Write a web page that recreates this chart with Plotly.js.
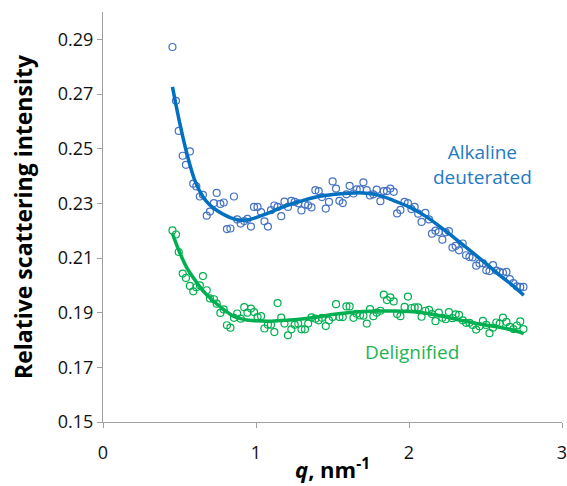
<!DOCTYPE html>
<html>
<head>
<meta charset="utf-8">
<script src="https://cdn.plot.ly/plotly-3.0.1.min.js"></script>
<style>html,body{margin:0;padding:0;background:#fff;}#chart{width:567px;height:486px;}</style>
</head>
<body>
<div id="chart"></div>
<script>
// scattering vector q (nm^-1), shared by both measured series
const q = [0.454,0.477,0.495,0.521,0.542,0.568,0.590,0.610,0.633,0.653,
0.678,0.699,0.725,0.743,0.767,0.789,0.810,0.833,0.856,0.877,
0.900,0.923,0.944,0.967,0.987,1.010,1.033,1.055,1.078,1.098,
1.120,1.141,1.165,1.186,1.209,1.231,1.253,1.276,1.297,1.320,
1.341,1.363,1.388,1.410,1.431,1.456,1.477,1.501,1.523,1.545,
1.567,1.591,1.612,1.637,1.658,1.680,1.702,1.724,1.745,1.767,
1.789,1.813,1.835,1.856,1.878,1.900,1.922,1.944,1.971,1.993,
2.016,2.037,2.060,2.082,2.107,2.131,2.150,2.173,2.195,2.218,
2.240,2.261,2.284,2.305,2.327,2.351,2.373,2.395,2.416,2.439,
2.461,2.483,2.505,2.526,2.549,2.571,2.593,2.614,2.637,2.659,
2.682,2.705,2.727,2.748];

// Alkaline deuterated: measured intensity
const alkaline = [0.2872,0.2675,0.2565,0.2474,0.2441,0.2490,0.2372,0.2362,0.2325,0.2331,
0.2255,0.2270,0.2301,0.2338,0.2298,0.2303,0.2206,0.2208,0.2325,0.2241,
0.2226,0.2235,0.2243,0.2215,0.2287,0.2287,0.2268,0.2234,0.2215,0.2275,
0.2292,0.2287,0.2253,0.2306,0.2287,0.2309,0.2305,0.2300,0.2274,0.2296,
0.2293,0.2285,0.2348,0.2345,0.2323,0.2281,0.2305,0.2380,0.2354,0.2309,
0.2301,0.2333,0.2364,0.2336,0.2351,0.2351,0.2377,0.2348,0.2329,0.2333,
0.2350,0.2308,0.2345,0.2345,0.2354,0.2342,0.2263,0.2276,0.2305,0.2301,
0.2279,0.2287,0.2262,0.2232,0.2265,0.2241,0.2189,0.2200,0.2195,0.2167,
0.2194,0.2198,0.2138,0.2144,0.2128,0.2153,0.2110,0.2104,0.2102,0.2072,
0.2080,0.2081,0.2055,0.2052,0.2074,0.2054,0.2049,0.2046,0.2049,0.2023,
0.2008,0.1996,0.1994,0.1994];

// Delignified: measured intensity
const delignified = [0.2201,0.2186,0.2122,0.2043,0.2027,0.1998,0.1978,0.1993,0.2000,0.2034,
0.1982,0.1952,0.1949,0.1933,0.1899,0.1912,0.1854,0.1845,0.1881,0.1897,
0.1878,0.1920,0.1900,0.1915,0.1902,0.1884,0.1887,0.1842,0.1856,0.1856,
0.1829,0.1935,0.1882,0.1860,0.1817,0.1839,0.1856,0.1860,0.1839,0.1839,
0.1860,0.1883,0.1878,0.1872,0.1881,0.1851,0.1872,0.1884,0.1931,0.1884,
0.1884,0.1923,0.1923,0.1881,0.1896,0.1890,0.1889,0.1860,0.1913,0.1887,
0.1900,0.1907,0.1966,0.1946,0.1956,0.1941,0.1895,0.1887,0.1921,0.1959,
0.1917,0.1919,0.1919,0.1885,0.1907,0.1910,0.1895,0.1869,0.1900,0.1881,
0.1876,0.1902,0.1880,0.1894,0.1892,0.1872,0.1863,0.1863,0.1855,0.1838,
0.1850,0.1870,0.1855,0.1825,0.1845,0.1864,0.1860,0.1882,0.1866,0.1848,
0.1840,0.1853,0.1868,0.1840];

// fitted trend curves
const fitQ = [0.454,0.5,0.55,0.6,0.65,0.7,0.75,0.8,0.85,0.9,0.95,1.0,1.1,1.2,1.3,1.4,1.5,1.6,1.7,1.8,1.9,2.0,2.1,2.2,2.3,2.4,2.5,2.6,2.7,2.75];
const alkalineFit = [0.2726,0.2598,0.2478,0.2384,0.2327,0.2293,0.2272,0.2256,0.2244,0.2238,0.2240,0.2248,0.2269,0.2292,0.2309,0.2324,0.2332,0.2337,0.2338,0.2330,0.2310,0.2287,0.2256,0.2216,0.2172,0.2127,0.2081,0.2034,0.1989,0.1964];
const delignifiedFit = [0.2189,0.2122,0.2062,0.2020,0.1982,0.1954,0.1929,0.1907,0.1888,0.1878,0.1872,0.1870,0.1869,0.1872,0.1877,0.1884,0.1893,0.1900,0.1904,0.1906,0.1906,0.1904,0.1899,0.1889,0.1877,0.1865,0.1855,0.1846,0.1833,0.1823];

const yTicks = [0.15,0.17,0.19,0.21,0.23,0.25,0.27,0.29];
const yTickText = ['0.15','0.17','0.19','0.21','0.23','0.25','0.27','0.29'];
const xTicks = [0,1,2,3];

const FONT = '"Open Sans", Lato, sans-serif';
const BLUE_MK = '#4472c4', BLUE_LN = '#0070c0', GREEN = '#00b050';

const traces = [
  {x:q, y:alkaline, mode:'markers', type:'scatter',
   marker:{symbol:'circle-open', size:7, color:BLUE_MK, line:{width:1.2}}, hoverinfo:'skip'},
  {x:q, y:delignified, mode:'markers', type:'scatter',
   marker:{symbol:'circle-open', size:7, color:GREEN, line:{width:1.2}}, hoverinfo:'skip'},
  {x:fitQ, y:alkalineFit, mode:'lines', type:'scatter',
   line:{color:BLUE_LN, width:3.5, shape:'spline'}, hoverinfo:'skip'},
  {x:fitQ, y:delignifiedFit, mode:'lines', type:'scatter',
   line:{color:GREEN, width:3.5, shape:'spline'}, hoverinfo:'skip'}
];

const layout = {
  width:567, height:486,
  margin:{l:103, r:5, t:12, b:64},
  paper_bgcolor:'#fff', plot_bgcolor:'#fff',
  showlegend:false,
  font:{family:FONT, size:18, color:'#000'},
  xaxis:{range:[0,3], tickvals:xTicks, ticktext:xTicks.map(String),
    showgrid:false, zeroline:false, showline:true, linecolor:'#a0a0a0', linewidth:1,
    ticks:'outside', ticklen:5, tickcolor:'#a0a0a0', ticklabelstandoff:9,
    ticklabeloverflow:'allow',
    tickfont:{family:FONT, size:18, color:'#111'},
    title:{text:'<b><i>q</i>, nm<sup>-1</sup></b>', font:{family:FONT, size:22, color:'#000'}, standoff:0}},
  yaxis:{range:[0.15,0.30], tickvals:yTicks, ticktext:yTickText,
    showgrid:false, zeroline:false, showline:true, linecolor:'#a0a0a0', linewidth:1,
    ticks:'outside', ticklen:5, tickcolor:'#a0a0a0', ticklabeloverflow:'allow',
    tickfont:{family:FONT, size:18, color:'#111'},
    title:{text:'<b>Relative scattering intensity</b>', font:{family:FONT, size:23, color:'#000'}, standoff:18}},
  annotations:[
    {x:2.48, y:0.2443, xref:'x', yref:'y', text:'Alkaline<br>deuterated', showarrow:false,
     font:{family:FONT, size:19, color:'#1f7ac4'}, align:'center'},
    {x:2.02, y:0.1755, xref:'x', yref:'y', text:'Delignified', showarrow:false,
     font:{family:FONT, size:19, color:'#1db454'}, align:'center'}
  ]
};

Plotly.newPlot('chart', traces, layout, {staticPlot:true, displayModeBar:false});
</script>
</body>
</html>
